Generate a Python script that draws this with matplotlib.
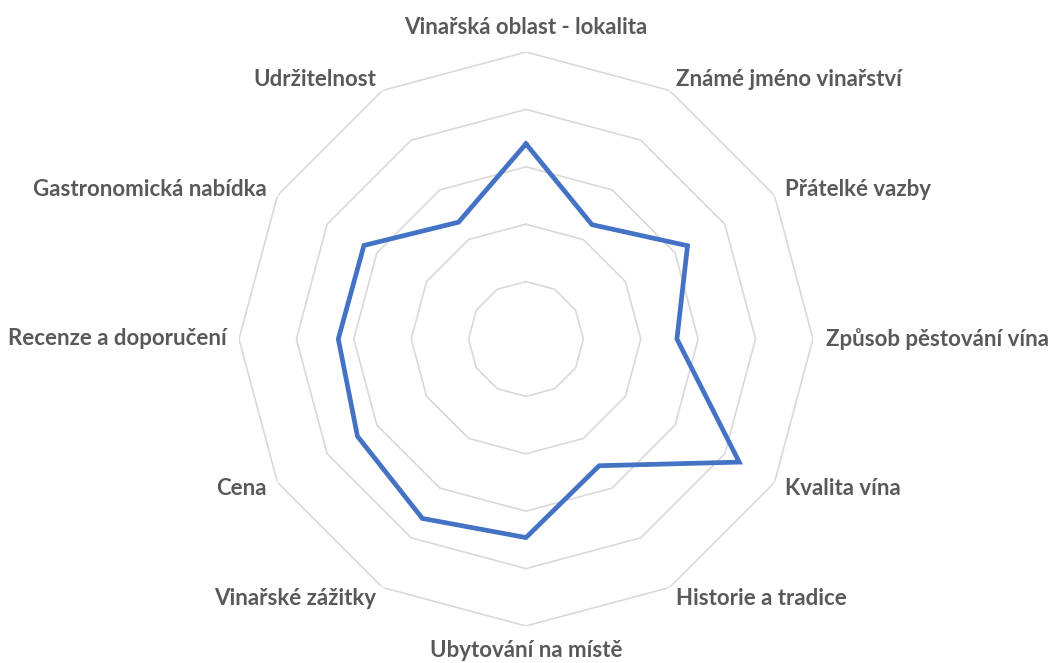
import numpy as np
import matplotlib
matplotlib.use('Agg')
import matplotlib.pyplot as plt

categories = ['Vinařská oblast - lokalita', 'Známé jméno vinařství', 'Přátelké vazby',
              'Způsob pěstování vína', 'Kvalita vína', 'Historie a tradice',
              'Ubytování na místě', 'Vinařské zážitky', 'Cena',
              'Recenze a doporučení', 'Gastronomická nabídka', 'Udržitelnost']
values = [3.40, 2.30, 3.25, 2.63, 4.29, 2.55, 3.46, 3.61, 3.39, 3.27, 3.26, 2.35]
rings = [1, 2, 3, 4, 5]

plt.rcParams['font.family'] = ['Lato', 'DejaVu Sans']

n = len(categories)
theta = np.linspace(0, 2 * np.pi, n, endpoint=False)
theta_c = np.append(theta, theta[0])

fig = plt.figure(figsize=(10.51, 6.63), dpi=100)
ax = fig.add_axes([0.2274, 0.0558, 0.5461, 0.8658], projection='polar')
ax.set_theta_zero_location('N')
ax.set_theta_direction(-1)
ax.set_ylim(0, 5)
ax.axis('off')

# polygonal grid rings (no spokes)
for r in rings:
    ax.plot(theta_c, [r] * (n + 1), color='#d9d9d9', lw=1.2, zorder=1)

vals_c = values + values[:1]
ax.plot(theta_c, vals_c, color='#4472c4', lw=3.4, zorder=3,
        solid_joinstyle='miter')

for t, lab in zip(theta, categories):
    deg = np.degrees(t)
    if np.isclose(deg, 0):
        ha, va, r = 'center', 'bottom', 5.25
    elif np.isclose(deg, 180):
        ha, va, r = 'center', 'top', 5.25
    elif deg < 180:
        ha, va, r = 'left', 'center', 5.22
    else:
        ha, va, r = 'right', 'center', 5.22
    ax.text(t, r, lab, ha=ha, va=va, fontsize=16, fontweight='bold',
            color='#595959')

fig.savefig('out.png', dpi=100, facecolor='white')
